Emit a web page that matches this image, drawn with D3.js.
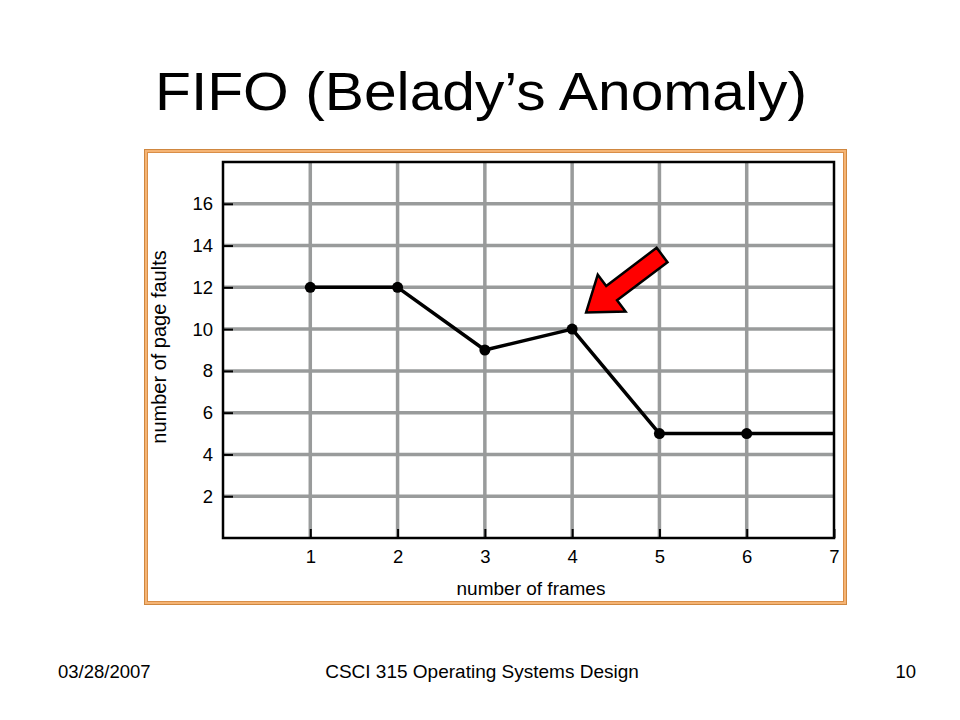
<!DOCTYPE html>
<html lang="en">
<head>
    <meta charset="UTF-8">
    <title>FIFO (Belady's Anomaly)</title>
    <script src="https://d3js.org/d3.v7.min.js"></script>
    <style>
        body {
            margin: 0;
            background: #fff;
        }
        svg text {
            font-family: "Liberation Sans", Arial, sans-serif;
            fill: #000;
        }
    </style>
</head>
<body>
    <svg width="960" height="720"></svg>
    <script>
        // Data
        const frames = [1, 2, 3, 4, 5, 6, 7];
        const pageFaults = [12, 12, 9, 10, 5, 5, 5];
        const xTicks = [1, 2, 3, 4, 5, 6, 7];
        const yTicks = [2, 4, 6, 8, 10, 12, 14, 16];
        // arrow: tail and tip in data units
        const arrowTail = [5.03, 13.55];
        const arrowTip = [4.16, 10.8];

        const svg = d3.select("svg");

        // Plot area on the slide
        const plot = {left: 223, right: 834, top: 162, bottom: 538};

        const x = d3.scaleLinear().domain([0, 7]).range([plot.left, plot.right]);
        const y = d3.scaleLinear().domain([0, 18]).range([plot.bottom, plot.top]);

        // Slide title
        svg.append("text")
           .attr("x", 155)
           .attr("y", 110)
           .attr("textLength", 652)
           .attr("lengthAdjust", "spacingAndGlyphs")
           .style("font-size", "53px")
           .text("FIFO (Belady\u2019s Anomaly)");

        // Orange picture frame
        svg.append("rect")
           .attr("x", 146).attr("y", 151)
           .attr("width", 699).attr("height", 452)
           .attr("fill", "#fff")
           .attr("stroke", "#f5b474")
           .attr("stroke-width", 3);
        svg.append("rect")
           .attr("x", 144.5).attr("y", 149.5)
           .attr("width", 702).attr("height", 455)
           .attr("fill", "none")
           .attr("stroke", "#cf8740")
           .attr("stroke-width", 1);
        svg.append("rect")
           .attr("x", 147.5).attr("y", 152.5)
           .attr("width", 696).attr("height", 449)
           .attr("fill", "none")
           .attr("stroke", "#d98e48")
           .attr("stroke-width", 1);

        // Grid lines
        const grid = svg.append("g").attr("stroke", "#999b9b").attr("stroke-width", 3.5);
        grid.selectAll(".hgrid")
            .data(yTicks)
            .enter().append("line")
            .attr("x1", plot.left).attr("x2", plot.right)
            .attr("y1", d => y(d)).attr("y2", d => y(d));
        grid.selectAll(".vgrid")
            .data(xTicks.filter(d => d < 7))
            .enter().append("line")
            .attr("x1", d => x(d)).attr("x2", d => x(d))
            .attr("y1", plot.top).attr("y2", plot.bottom);

        // Axes (inner ticks)
        svg.append("g")
           .attr("transform", `translate(${plot.left},0)`)
           .call(d3.axisLeft(y).tickValues(yTicks).tickFormat(d3.format("d"))
                 .tickSizeInner(-10).tickSizeOuter(0).tickPadding(10))
           .call(g => g.select(".domain").remove())
           .call(g => g.selectAll("line").attr("stroke", "#000").attr("stroke-width", 2))
           .call(g => g.selectAll("text").style("font-size", "18.5px").attr("font-family", null));

        svg.append("g")
           .attr("transform", `translate(0,${plot.bottom})`)
           .call(d3.axisBottom(x).tickValues(xTicks).tickFormat(d3.format("d"))
                 .tickSizeInner(-9).tickSizeOuter(0).tickPadding(12))
           .call(g => g.select(".domain").remove())
           .call(g => g.selectAll("line").attr("stroke", "#000").attr("stroke-width", 2))
           .call(g => g.selectAll("text").style("font-size", "18.5px").attr("font-family", null));

        // Plot border
        svg.append("rect")
           .attr("x", plot.left).attr("y", plot.top)
           .attr("width", plot.right - plot.left)
           .attr("height", plot.bottom - plot.top)
           .attr("fill", "none")
           .attr("stroke", "#000")
           .attr("stroke-width", 2.5);

        // Axis labels
        svg.append("text")
           .attr("x", 531)
           .attr("y", 595)
           .attr("text-anchor", "middle")
           .style("font-size", "19px")
           .text("number of frames");

        svg.append("text")
           .attr("transform", "translate(166,347) rotate(-90)")
           .attr("text-anchor", "middle")
           .style("font-size", "20px")
           .text("number of page faults");

        // Line and points
        const pts = frames.map((f, i) => [f, pageFaults[i]]);
        svg.append("path")
           .datum(pts)
           .attr("fill", "none")
           .attr("stroke", "#000")
           .attr("stroke-width", 3.5)
           .attr("stroke-linejoin", "round")
           .attr("d", d3.line().x(d => x(d[0])).y(d => y(d[1])));

        svg.selectAll(".pt")
           .data(pts.filter(d => d[0] < 7))
           .enter().append("circle")
           .attr("cx", d => x(d[0]))
           .attr("cy", d => y(d[1]))
           .attr("r", 5.5)
           .attr("fill", "#000");

        // Red arrow pointing at the anomaly
        const tx = x(arrowTail[0]), ty = y(arrowTail[1]);
        const px = x(arrowTip[0]), py = y(arrowTip[1]);
        const len = Math.hypot(px - tx, py - ty);
        const ang = Math.atan2(py - ty, px - tx) * 180 / Math.PI;
        const shaft = 9, head = 23, headLen = 32;
        const shape = [
            [0, -shaft], [len - headLen, -shaft], [len - headLen, -head],
            [len, 0],
            [len - headLen, head], [len - headLen, shaft], [0, shaft]
        ];
        svg.append("path")
           .attr("transform", `translate(${tx},${ty}) rotate(${ang})`)
           .attr("d", "M" + shape.map(p => p.join(",")).join("L") + "Z")
           .attr("fill", "#ff0000")
           .attr("stroke", "#000")
           .attr("stroke-width", 2.5)
           .attr("stroke-linejoin", "miter");

        // Footer
        svg.append("text")
           .attr("x", 58).attr("y", 678)
           .style("font-size", "18.5px")
           .text("03/28/2007");
        svg.append("text")
           .attr("x", 482).attr("y", 678)
           .attr("text-anchor", "middle")
           .style("font-size", "19px")
           .text("CSCI 315 Operating Systems Design");
        svg.append("text")
           .attr("x", 916).attr("y", 678)
           .attr("text-anchor", "end")
           .style("font-size", "18.5px")
           .text("10");
    </script>
</body>
</html>
